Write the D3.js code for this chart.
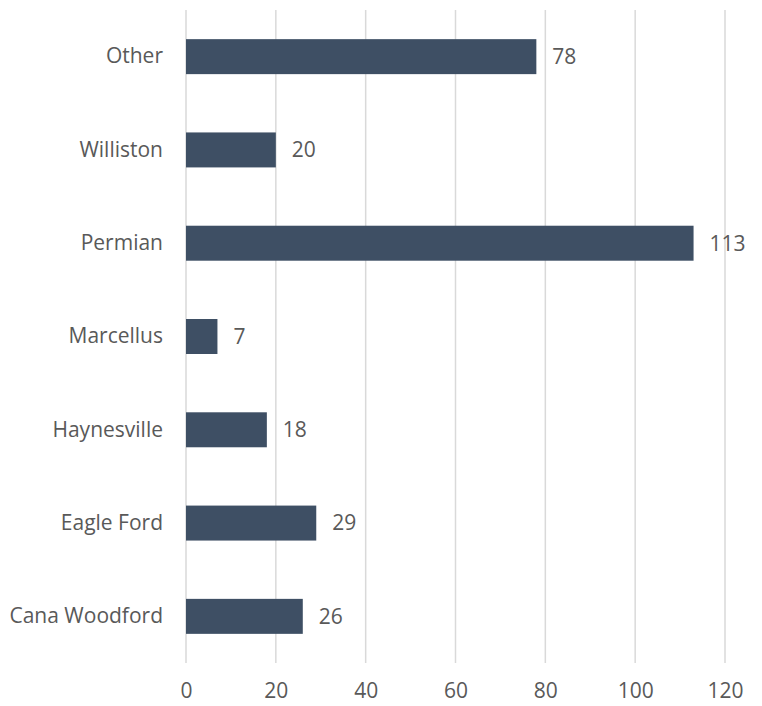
<!DOCTYPE html>
<html>
<head>
<meta charset="utf-8">
<script src="https://cdn.jsdelivr.net/npm/d3@7"></script>
<style>
  body { margin: 0; background: #fff; }
  text { font-family: "Open Sans", "Liberation Sans", sans-serif; fill: #595959; }
</style>
</head>
<body>
<div id="chart"></div>
<script>
// data, top to bottom
const basins = ["Other", "Williston", "Permian", "Marcellus", "Haynesville", "Eagle Ford", "Cana Woodford"];
const counts = [78, 20, 113, 7, 18, 29, 26];
const xTicks = [0, 20, 40, 60, 80, 100, 120];

const margin = {top: 10, right: 37, bottom: 43, left: 186},
    width = 762 - margin.left - margin.right,
    height = 706 - margin.top - margin.bottom;

var svg = d3.select("#chart")
  .append("svg")
    .attr("width", 762)
    .attr("height", 706)
  .append("g")
    .attr("transform", "translate(" + margin.left + "," + margin.top + ")");

var x = d3.scaleLinear()
  .domain([0, 120])
  .range([0, width]);

var y = d3.scaleBand()
  .domain(basins)
  .range([0, height])
  .paddingInner(0.625)
  .paddingOuter(0.3125);

// gridlines
svg.append("g")
  .selectAll("line")
  .data(xTicks)
  .enter().append("line")
    .attr("x1", d => x(d))
    .attr("x2", d => x(d))
    .attr("y1", 0)
    .attr("y2", height)
    .attr("stroke", "#d9d9d9")
    .attr("stroke-width", 1.5);

// x axis labels
var xAxis = svg.append("g")
  .attr("transform", `translate(0,${height})`)
  .call(d3.axisBottom(x).tickValues(xTicks).tickSize(0).tickPadding(20));
xAxis.select(".domain").remove();
xAxis.selectAll("text")
  .style("font-size", "21px")
  .attr("fill", "#595959");

// y axis labels
var yAxis = svg.append("g")
  .call(d3.axisLeft(y).tickSize(0).tickPadding(23));
yAxis.select(".domain").remove();
yAxis.selectAll("text")
  .style("font-size", "21px")
  .attr("fill", "#595959");

// bars
svg.selectAll(".bar")
  .data(basins)
  .enter().append("rect")
  .attr("class", "bar")
  .attr("x", x(0))
  .attr("y", d => y(d))
  .attr("width", (d, i) => x(counts[i]) - x(0))
  .attr("height", y.bandwidth())
  .attr("fill", "#3e4f64");

// value labels
svg.selectAll(".val")
  .data(basins)
  .enter().append("text")
  .attr("class", "val")
  .attr("x", (d, i) => x(counts[i]) + 16)
  .attr("y", d => y(d) + y.bandwidth() / 2)
  .attr("dy", "0.35em")
  .text((d, i) => counts[i])
  .style("font-size", "21px");
</script>
</body>
</html>
